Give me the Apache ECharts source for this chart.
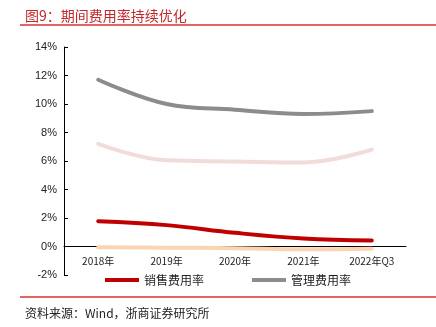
<!DOCTYPE html>
<html><head><meta charset="utf-8">
<script src="https://cdn.jsdelivr.net/npm/echarts@6/dist/echarts.min.js"></script>
<style>html,body{margin:0;padding:0;background:#fff}#c{width:436px;height:327px}</style>
</head><body><div id="c"></div>
<script>
const categories = ['2018年','2019年','2020年','2021年','2022年Q3'];
const sales = [1.78, 1.5, 0.96, 0.56, 0.42];
const admin = [11.7, 10.0, 9.6, 9.3, 9.5];
const rnd = [7.2, 6.05, 5.97, 5.9, 6.8];
const fin = [-0.05, -0.08, -0.12, -0.2, -0.15];
const yTicks = {min: -2, max: 14, interval: 2};

const chart = echarts.init(document.getElementById('c'));
const font = '"Noto Sans CJK SC", sans-serif';
function line(name, data, color, z) {
  return {name, type: 'line', data, smooth: 0.4, symbol: 'none', z,
    lineStyle: {width: 4, color, cap: 'round'}, itemStyle: {color}};
}
chart.setOption({
  animation: false,
  title: [
    {text: '图9：期间费用率持续优化', left: 20, top: 4,
     textStyle: {fontFamily: font, fontSize: 14, fontWeight: 'normal', color: '#c0282d'}},
    {text: '资料来源：Wind，浙商证券研究所', left: 20, top: 302,
     textStyle: {fontFamily: font, fontSize: 12, fontWeight: 'normal', color: '#222'}}
  ],
  graphic: [
    {type: 'rect', shape: {x: 20, y: 24, width: 416, height: 2}, style: {fill: '#e06666'}},
    {type: 'rect', shape: {x: 20, y: 296, width: 416, height: 2}, style: {fill: '#e06666'}}
  ],
  legend: {
    data: ['销售费用率', '管理费用率'], bottom: 36, left: 100, itemGap: 48,
    itemWidth: 34, itemHeight: 4, icon: 'rect',
    textStyle: {fontFamily: font, fontSize: 12, color: '#222'}
  },
  grid: {left: 64, right: 30, top: 47, bottom: 52, containLabel: false},
  xAxis: {
    type: 'category', data: categories, boundaryGap: true,
    axisLine: {onZero: true, lineStyle: {color: '#000', width: 1}},
    axisTick: {inside: true, length: 4, lineStyle: {color: '#000'}},
    axisLabel: {fontFamily: font, fontSize: 10, color: '#222', margin: -19}
  },
  yAxis: {
    type: 'value', min: yTicks.min, max: yTicks.max, interval: yTicks.interval,
    splitLine: {show: false},
    axisLine: {show: true, lineStyle: {color: '#000', width: 1}},
    axisTick: {show: true, inside: true, length: 4, lineStyle: {color: '#000'}},
    axisLabel: {formatter: '{value}%', fontFamily: 'Liberation Sans, Arial', fontSize: 11, color: '#222', margin: 7}
  },
  series: [
    line('销售费用率', sales, '#c00000', 4),
    line('管理费用率', admin, '#8c8c8c', 3),
    line('研发费用率', rnd, '#f2dcdb', 2),
    line('财务费用率', fin, '#fbd4b4', 1)
  ]
});
</script></body></html>
